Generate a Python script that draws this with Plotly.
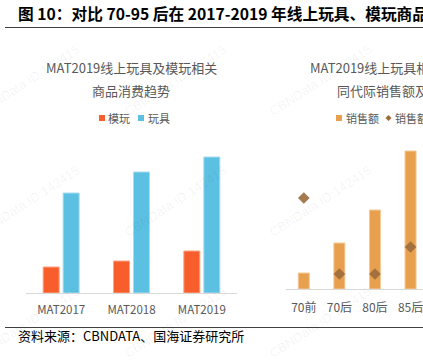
import plotly.graph_objects as go

W, H = 423, 361

# ---- data ----
periods = ["MAT2017", "MAT2018", "MAT2019"]
model_toys = [26, 32, 42]        # 模玩
toys = [100, 121, 136]           # 玩具

generations = ["70前", "70后", "80后", "85后"]
sales = [16, 46, 79, 138]        # 销售额
sales_growth = [91, 15, 15, 42]  # 销售额增速

C_MODEL = "#F85E2C"
C_TOY = "#5BC0E2"
C_SALES = "#E8A04E"
C_GROWTH = "#9C6B3D"
GRAY = "#595959"
FONT = "Noto Sans CJK SC"

def px(x):
    return x / W

def py(y):
    return 1 - y / H

fig = go.Figure()

fig.add_trace(go.Bar(x=periods, y=model_toys, name="模玩", width=0.228, offset=-0.256,
                     marker=dict(color=C_MODEL, line=dict(color="#FCA688", width=1)),
                     xaxis="x", yaxis="y", showlegend=False))
fig.add_trace(go.Bar(x=periods, y=toys, name="玩具", width=0.228, offset=0.028,
                     marker=dict(color=C_TOY, line=dict(color="#A9DDF0", width=1)),
                     xaxis="x", yaxis="y", showlegend=False))
fig.add_trace(go.Bar(x=generations, y=sales, name="销售额", width=0.31,
                     marker=dict(color=C_SALES, line=dict(color="#F3C998", width=1)),
                     xaxis="x2", yaxis="y2", showlegend=False))
fig.add_trace(go.Scatter(x=generations, y=sales_growth, name="销售额增速", mode="markers",
                         marker=dict(symbol="diamond", size=9, color=C_GROWTH, opacity=0.9),
                         xaxis="x2", yaxis="y3", showlegend=False))

ann = []
# main title
ann.append(dict(text="<b>图 10：对比 70-95 后在 2017-2019 年线上玩具、模玩商品</b>",
                x=px(16), y=py(14), xanchor="left", yanchor="middle",
                font=dict(family=FONT, size=15.7, color="#000000")))
# source
ann.append(dict(text="资料来源：CBNDATA、国海证券研究所",
                x=px(16), y=py(335), xanchor="left", yanchor="middle",
                font=dict(family=FONT, size=13, color="#000000")))
# left panel title
ann.append(dict(text="MAT2019线上玩具及模玩相关", x=px(131), y=py(68), xanchor="center", yanchor="middle",
                font=dict(family=FONT, size=13, color=GRAY)))
ann.append(dict(text="商品消费趋势", x=px(131), y=py(90), xanchor="center", yanchor="middle",
                font=dict(family=FONT, size=13, color=GRAY)))
# right panel title (cropped at the edge, as in the reference)
ann.append(dict(text="MAT2019线上玩具相关商品不", x=px(308), y=py(68), xanchor="left", yanchor="middle",
                font=dict(family=FONT, size=13, color=GRAY)))
ann.append(dict(text="同代际销售额及增速", x=px(335), y=py(90), xanchor="left", yanchor="middle",
                font=dict(family=FONT, size=13, color=GRAY)))
# legends text
for t, x in [("模玩", 106), ("玩具", 146), ("销售额", 344), ("销售额增速", 393)]:
    ann.append(dict(text=t, x=px(x), y=py(118), xanchor="left", yanchor="middle",
                    font=dict(family=FONT, size=11, color=GRAY)))
# watermarks
for cy in (80, 201, 322):
    for cx in (28, 175, 320):
        ann.append(dict(text="CBNData ID:142415", x=px(cx), y=py(cy), xanchor="center", yanchor="middle",
                        textangle=-33, font=dict(family="Liberation Sans", size=13,
                                                  color="rgba(0,0,0,0.06)")))
for a in ann:
    a.update(xref="paper", yref="paper", showarrow=False)

shapes = [
    dict(type="line", xref="paper", yref="paper", x0=px(5), x1=1, y0=py(27.5), y1=py(27.5),
         line=dict(color="#404040", width=1)),
    dict(type="line", xref="paper", yref="paper", x0=px(5), x1=1, y0=py(327.5), y1=py(327.5),
         line=dict(color="#404040", width=1)),
    dict(type="rect", xref="paper", yref="paper", x0=px(99), x1=px(105), y0=py(121), y1=py(115),
         fillcolor=C_MODEL, line=dict(width=0)),
    dict(type="rect", xref="paper", yref="paper", x0=px(138), x1=px(144), y0=py(121), y1=py(115),
         fillcolor=C_TOY, line=dict(width=0)),
    dict(type="rect", xref="paper", yref="paper", x0=px(336), x1=px(342), y0=py(121), y1=py(115),
         fillcolor=C_SALES, line=dict(width=0)),
    dict(type="path", xref="paper", yref="paper",
         path=f"M {px(385.5)} {py(118)} L {px(388.5)} {py(115)} L {px(391.5)} {py(118)} L {px(388.5)} {py(121)} Z",
         fillcolor=C_GROWTH, line=dict(width=0)),
]

axis_common = dict(showgrid=False, zeroline=False, ticks="", showline=True,
                   linecolor="#D9D9D9", linewidth=1)

fig.update_layout(
    width=W, height=H, margin=dict(l=0, r=0, t=0, b=0),
    paper_bgcolor="white", plot_bgcolor="white",
    barmode="overlay",
    xaxis=dict(domain=[px(26), px(237)], range=[-0.5, 2.5], anchor="y", ticklabelstandoff=6,
               tickfont=dict(family=FONT, size=11.5, color=GRAY), **axis_common),
    yaxis=dict(domain=[py(293), py(140)], range=[0, 153], visible=False),
    xaxis2=dict(domain=[px(286), 1], range=[-0.5, 3.35], anchor="y2", ticklabelstandoff=8,
                tickfont=dict(family=FONT, size=12, color=GRAY), **axis_common),
    yaxis2=dict(domain=[py(289), py(140)], range=[0, 149], visible=False),
    yaxis3=dict(overlaying="y2", range=[0, 149], visible=False),
    annotations=ann, shapes=shapes,
)

fig.write_html("out.html", config={"displayModeBar": False},
               post_script="document.body.style.margin='0px';")
